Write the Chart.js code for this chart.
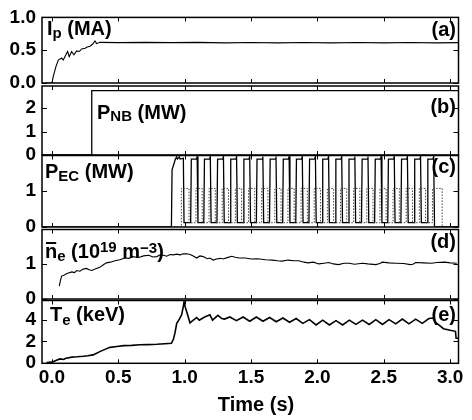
<!DOCTYPE html>
<html>
<head>
<meta charset="utf-8">
<script src="https://cdn.jsdelivr.net/npm/chart.js@4/dist/chart.umd.min.js"></script>
<style>
  html, body { margin: 0; padding: 0; background: #fff; }
  #wrap { position: relative; width: 472px; height: 420px; }
  #wrap canvas { position: absolute; left: 0; top: 0; }
</style>
</head>
<body>
<div id="wrap">
  <canvas id="pa" width="472" height="420"></canvas>
  <canvas id="pb" width="472" height="420"></canvas>
  <canvas id="pc" width="472" height="420"></canvas>
  <canvas id="pd" width="472" height="420"></canvas>
  <canvas id="pe" width="472" height="420"></canvas>
</div>
<script>
// ---- data (time in s) ----
const timeTicks = [0, 0.5, 1.0, 1.5, 2.0, 2.5, 3.0];
const ipTicks = [0, 0.5, 1.0];
const nbTicks = [0, 1, 2];
const ecTicks = [0, 1];
const neTicks = [0, 1];
const teTicks = [0, 2, 4];

// plasma current Ip (MA)
const ipTrace = [[-0.05,0],[0.0,0],[0.01,0.1],[0.03,0.25],[0.048,0.35],[0.073,0.38],[0.085,0.35],
  [0.105,0.43],[0.118,0.48],[0.13,0.4],[0.148,0.48],[0.165,0.43],[0.186,0.49],[0.206,0.48],
  [0.224,0.52],[0.25,0.53],[0.266,0.55],[0.286,0.56],[0.306,0.59],[0.324,0.64],[0.337,0.6],
  [0.36,0.62],[0.5,0.615],[0.7,0.62],[0.9,0.615],[1.1,0.62],[1.3,0.612],[1.5,0.618],[1.7,0.612],
  [1.9,0.618],[2.1,0.612],[2.3,0.618],[2.5,0.612],[2.7,0.618],[2.9,0.612],[3.06,0.615]];

// neutral beam power (MW)
const nbTrace = [[-0.075,0],[0.3,0],[0.3,2.75],[3.06,2.75]];

// ECH power (MW): first long pulse, then modulated pulses (rise/fall times)
const ecFirst = [[-0.075,0],[0.9,0],[0.905,1.6],[0.93,1.9],[0.94,1.96],[0.945,1.9],[0.96,1.96],
  [0.965,1.9],[0.99,1.92],[0.995,0.12]];
const ecRise = [1.045,1.144,1.243,1.342,1.441,1.540,1.639,1.738,1.837,1.936,2.035,2.134,2.233,
  2.332,2.431,2.530,2.629,2.728,2.827];
const ecFall = [1.100,1.199,1.298,1.397,1.496,1.595,1.694,1.793,1.892,1.991,2.090,2.189,2.288,
  2.387,2.486,2.585,2.684,2.783,2.882];
const ecHigh = 1.9;
const ecPeak = 1.97;
const ecLow = 0.12;
// second (dotted) ECH trace
const ecDotOn = [0.975,1.085,1.184,1.283,1.382,1.481,1.580,1.679,1.778,1.877,1.976,2.075,2.174,
  2.273,2.372,2.471,2.570,2.669,2.768,2.867];
const ecDotOff = [1.033,1.132,1.231,1.330,1.429,1.528,1.627,1.726,1.825,1.924,2.023,2.122,2.221,
  2.320,2.419,2.518,2.617,2.716,2.815,2.940];
const ecDotLevel = 1.08;

// line-averaged density (1e19 m^-3)
const neTrace = [[0.055,0.37],[0.065,0.55],[0.073,0.66],[0.09,0.68],[0.105,0.72],[0.123,0.75],
  [0.15,0.78],[0.17,0.76],[0.186,0.82],[0.21,0.8],[0.235,0.86],[0.26,0.88],[0.28,0.84],[0.3,0.82],
  [0.33,0.87],[0.36,0.91],[0.385,0.98],[0.41,1.04],[0.44,1.06],[0.475,1.1],[0.51,1.13],[0.55,1.18],
  [0.58,1.17],[0.61,1.22],[0.635,1.2],[0.66,1.2],[0.69,1.24],[0.73,1.26],[0.76,1.21],[0.79,1.22],
  [0.815,1.27],[0.84,1.26],[0.865,1.23],[0.89,1.28],[0.915,1.27],[0.94,1.29],[0.965,1.27],[0.99,1.3],
  [1.015,1.3],[1.04,1.28],[1.065,1.24],[1.09,1.18],[1.115,1.24],[1.14,1.22],[1.17,1.16],[1.19,1.18],
  [1.215,1.12],[1.24,1.15],[1.27,1.17],[1.29,1.15],[1.32,1.19],[1.356,1.23],[1.38,1.2],[1.41,1.18],
  [1.457,1.18],[1.5,1.15],[1.55,1.16],[1.61,1.13],[1.66,1.12],[1.7,1.1],[1.733,1.09],[1.78,1.12],
  [1.82,1.1],[1.86,1.1],[1.9,1.06],[1.93,1.04],[1.97,1.06],[2.01,1.01],[2.05,1.03],[2.085,1.05],
  [2.12,1.01],[2.16,0.99],[2.2,1.03],[2.24,1.03],[2.28,1.0],[2.34,1.03],[2.38,1.01],[2.44,0.99],
  [2.47,1.02],[2.49,1.06],[2.54,1.04],[2.59,1.03],[2.65,1.02],[2.7,0.99],[2.72,1.0],[2.74,1.05],
  [2.8,1.04],[2.86,1.03],[2.9,1.05],[2.96,1.06],[3.0,1.04],[3.05,1.03]];

// electron temperature (keV)
const teTrace = [[-0.04,0.0],[0.0,0.05],[0.03,0.2],[0.06,0.35],[0.09,0.3],[0.1,0.4],[0.15,0.52],
  [0.19,0.55],[0.236,0.6],[0.27,0.65],[0.31,0.73],[0.34,0.9],[0.36,1.04],[0.4,1.25],[0.437,1.44],
  [0.49,1.52],[0.54,1.6],[0.6,1.63],[0.663,1.68],[0.72,1.7],[0.79,1.73],[0.85,1.78],[0.9,1.83],
  [0.915,2.2],[0.927,2.8],[0.94,3.7],[0.96,4.1],[0.977,4.5],[0.99,5.3],[0.995,5.72],[1.005,5.2],
  [1.015,4.8],[1.04,3.75],[1.065,4.0],[1.09,4.25],[1.11,4.0],[1.15,4.3],[1.19,4.5],[1.21,4.0],
  [1.25,4.45],[1.28,4.15],[1.3,4.1],[1.34,4.3],[1.39,3.95],[1.44,4.3],[1.49,3.9],[1.54,4.3],
  [1.59,3.9],[1.64,4.25],[1.69,3.85],[1.74,4.2],[1.79,3.8],[1.84,4.15],[1.89,3.7],[1.94,4.05],
  [1.99,3.55],[2.04,4.0],[2.09,3.55],[2.14,3.95],[2.19,3.55],[2.24,4.0],[2.29,3.6],[2.34,4.0],
  [2.39,3.6],[2.44,4.05],[2.49,3.6],[2.54,4.05],[2.59,3.65],[2.64,4.1],[2.69,3.65],[2.74,4.1],
  [2.79,3.7],[2.84,4.15],[2.87,4.2],[2.89,3.8],[2.95,3.2],[3.0,3.05],[3.04,2.95],[3.045,2.3],[3.06,2.3]];

// ---- build the EC step traces from the edge times ----
const ecMain = ecFirst.slice();
ecRise.forEach((r, i) => {
  const f = ecFall[i];
  ecMain.push([r, ecLow], [r + 0.005, ecHigh], [f - 0.012, ecHigh], [f - 0.006, ecPeak], [f, ecLow]);
});
ecMain.push([ecFall[ecFall.length - 1], 0], [3.06, 0]);

const ecDot = [[-0.075, 0], [ecDotOn[0], 0]];
ecDotOn.forEach((s, i) => {
  const e = ecDotOff[i];
  ecDot.push([s, ecLow], [s, ecDotLevel], [e, ecDotLevel], [e, ecLow]);
});
ecDot.push([ecDotOff[ecDotOff.length - 1], 0], [3.06, 0]);

// ---- drawing ----
const FONT = '"Liberation Sans", Arial, Helvetica, sans-serif';
const X_MIN = -0.075, X_MAX = 3.063;
const PLOT_RIGHT = 458.5;

function drawParts(ctx, x, base, parts) {
  let cx = x;
  for (const [txt, size, dy, bar] of parts) {
    ctx.font = 'bold ' + size + 'px ' + FONT;
    ctx.fillText(txt, cx, base + dy);
    const w = ctx.measureText(txt).width;
    if (bar) {
      ctx.lineWidth = 2;
      ctx.beginPath();
      ctx.moveTo(cx + 1, base - 14.5);
      ctx.lineTo(cx + w - 1, base - 14.5);
      ctx.stroke();
    }
    cx += w;
  }
}

const framePlugin = {
  id: 'frame',
  afterDatasetsDraw(chart, args, o) {
    const { ctx, chartArea: a, scales } = chart;
    ctx.save();
    ctx.strokeStyle = '#000';
    ctx.fillStyle = '#000';
    ctx.lineWidth = 1.5;
    ctx.strokeRect(a.left, a.top, a.right - a.left, a.bottom - a.top);
    ctx.lineWidth = 1;
    ctx.beginPath();
    for (const v of o.yTicks) {
      const y = Math.round(scales.y.getPixelForValue(v)) + 0.5;
      ctx.moveTo(a.left, y); ctx.lineTo(a.left + 5, y);
      ctx.moveTo(a.right, y); ctx.lineTo(a.right - 5, y);
    }
    for (const t of timeTicks) {
      const x = Math.round(scales.x.getPixelForValue(t)) + 0.5;
      ctx.moveTo(x, a.top); ctx.lineTo(x, a.top + 4);
      ctx.moveTo(x, a.bottom); ctx.lineTo(x, a.bottom - 4);
    }
    ctx.stroke();
    ctx.textBaseline = 'alphabetic';
    ctx.textAlign = 'left';
    drawParts(ctx, o.labelX, o.labelY, o.label);
    ctx.textAlign = 'right';
    ctx.font = 'bold 20px ' + FONT;
    ctx.fillText(o.tag, 456, o.tagY);
    if (o.xTitle) {
      ctx.textAlign = 'center';
      ctx.fillText(o.xTitle, 256, 411);
    }
    ctx.restore();
  }
};

function makePanel(id, p) {
  const showX = !!p.showX;
  const xScale = {
    type: 'linear', min: X_MIN, max: X_MAX, display: showX,
    grid: { display: false, drawTicks: false }, border: { display: false },
    afterBuildTicks: s => { s.ticks = timeTicks.map(v => ({ value: v })); },
    ticks: {
      color: '#000', padding: 3, maxRotation: 0, autoSkip: false,
      font: { family: FONT, size: 19, weight: 'bold' },
      callback: v => Number(v).toFixed(1)
    }
  };
  if (showX) xScale.afterFit = s => { s.height = 420 - p.bottom; };
  return new Chart(document.getElementById(id), {
    type: 'line',
    data: {
      datasets: p.series.map(s => ({
        data: s.points.map(([x, y]) => ({ x, y })),
        borderColor: s.color || '#000',
        borderWidth: s.width || 1.2,
        borderDash: s.dash || [],
        pointRadius: 0, tension: 0, fill: false
      }))
    },
    options: {
      responsive: false, animation: false, events: [],
      layout: { padding: { top: p.top, bottom: showX ? 0 : 420 - p.bottom, left: 0, right: 472 - PLOT_RIGHT } },
      plugins: {
        legend: { display: false }, tooltip: { enabled: false },
        frame: { yTicks: p.ticks, label: p.label, labelX: p.labelX, labelY: p.labelY,
                 tag: p.tag, tagY: p.tagY, xTitle: p.xTitle }
      },
      scales: {
        x: xScale,
        y: {
          min: p.min, max: p.max,
          grid: { display: false, drawTicks: false }, border: { display: false },
          afterBuildTicks: s => { s.ticks = p.ticks.map(v => ({ value: v })); },
          afterFit: s => { s.width = 42; },
          ticks: {
            color: '#000', padding: 6,
            font: { family: FONT, size: 19, weight: 'bold' },
            callback: p.fmt || (v => String(v))
          }
        }
      }
    },
    plugins: [framePlugin]
  });
}

makePanel('pa', {
  top: 15, bottom: 83, min: 0, max: 1.0, ticks: ipTicks, fmt: v => Number(v).toFixed(1),
  series: [{ points: ipTrace, width: 1.1 }],
  label: [['I', 20, 0], ['p', 15, 2.5], [' (MA)', 20, 0]], labelX: 47, labelY: 35,
  tag: '(a)', tagY: 36
});
makePanel('pb', {
  top: 86, bottom: 155, min: 0, max: 2.95, ticks: nbTicks,
  series: [{ points: nbTrace, width: 1.3 }],
  label: [['P', 20, 0], ['NB', 15, 2], [' (MW)', 20, 0]], labelX: 97, labelY: 119,
  tag: '(b)', tagY: 112.5
});
makePanel('pc', {
  top: 155.5, bottom: 227, min: 0, max: 2.0, ticks: ecTicks,
  series: [{ points: ecDot, width: 1, dash: [1.5, 1.5], color: '#444' },
           { points: ecMain, width: 1.3 }],
  label: [['P', 20, 0], ['EC', 15, 3], [' (MW)', 20, 0]], labelX: 45, labelY: 178,
  tag: '(c)', tagY: 172.5
});
makePanel('pd', {
  top: 229.5, bottom: 299, min: 0, max: 2.0, ticks: neTicks,
  series: [{ points: neTrace, width: 1.1 }],
  label: [['n', 20, 0, true], ['e', 15, 3], [' (10', 20, 0], ['19', 15, -6], [' m', 20, 0],
          ['\u22123', 15, -5], [')', 20, 0]], labelX: 45, labelY: 257.5,
  tag: '(d)', tagY: 247.5
});
makePanel('pe', {
  top: 300.5, bottom: 363.3, min: -0.06, max: 5.85, ticks: teTicks, showX: true,
  series: [{ points: teTrace, width: 1.6 }],
  label: [['T', 20, 0], ['e', 15, 4], [' (keV)', 20, 0]], labelX: 50, labelY: 321,
  tag: '(e)', tagY: 321, xTitle: 'Time (s)'
});
</script>
</body>
</html>
